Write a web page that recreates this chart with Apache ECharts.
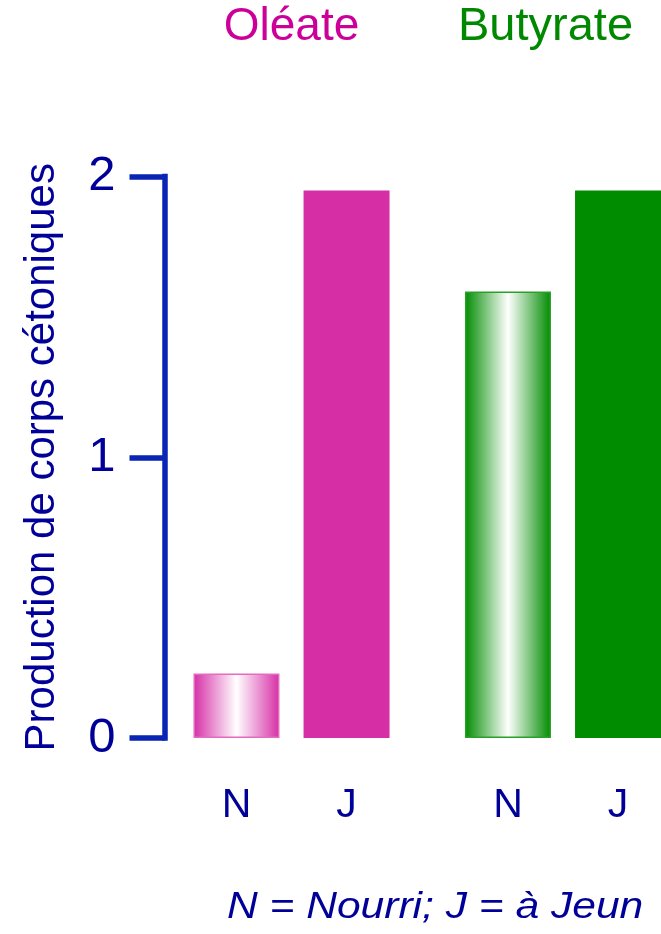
<!DOCTYPE html>
<html>
<head>
<meta charset="utf-8">
<title>Production de corps cétoniques</title>
<script src="https://cdn.jsdelivr.net/npm/echarts@6/dist/echarts.min.js"></script>
<style>
  html, body { margin: 0; padding: 0; background: #ffffff; }
  #chart { width: 661px; height: 934px; }
</style>
</head>
<body>
<div id="chart"></div>
<script>
// Substrates (groups) and feeding states (bars within a group)
const substrates = ['Oléate', 'Butyrate'];
const states = ['N', 'J'];
// Ketone body production per substrate, fed (N) and fasted (J)
const valuesFed = [0.23, 1.59];
const valuesFasted = [1.95, 1.95];
// Y axis ticks
const yTicks = [0, 1, 2];
const footnote = 'N = Nourri; J = à Jeun';
const yTitle = 'Production de corps cétoniques';

const FONT = '"Liberation Sans", Arial, Helvetica, sans-serif';
const NAVY = '#000099';
const AXIS_BLUE = '#0a24b4';
const substrateColors = ['#d62fa6', '#008c00'];
const substrateBorders = ['#e36cc0', '#2aa02a'];
const titleColors = ['#cc0099', '#008800'];

function cylinder(color) {
  return {
    type: 'linear', x: 0, y: 0, x2: 1, y2: 0,
    colorStops: [
      { offset: 0, color: color },
      { offset: 0.5, color: '#ffffff' },
      { offset: 1, color: color }
    ]
  };
}

const chart = echarts.init(document.getElementById('chart'), null, { renderer: 'canvas' });

chart.setOption({
  animation: false,
  backgroundColor: '#ffffff',
  grid: {
    left: 155.75, width: 543, top: 176.5, bottom: 196,
    containLabel: false,
    outerBoundsMode: 'none'
  },
  xAxis: [
    {
      type: 'category',
      data: substrates,
      position: 'bottom',
      axisLine: { show: false },
      axisTick: { show: false },
      axisLabel: { show: false }
    },
    {
      type: 'category',
      data: substrates,
      position: 'top',
      axisLine: { show: false },
      axisTick: { show: false },
      axisLabel: {
        margin: 126,
        formatter: (v, i) => '{s' + i + '|' + v + '}',
        rich: {
          s0: { fontFamily: FONT, fontSize: 46, color: titleColors[0] },
          s1: { fontFamily: FONT, fontSize: 47, color: titleColors[1], padding: [0, 35, 0, 0] }
        }
      }
    }
  ],
  yAxis: {
    type: 'value',
    min: yTicks[0],
    max: yTicks[yTicks.length - 1],
    interval: 1,
    offset: -8.75,
    name: yTitle,
    nameLocation: 'middle',
    nameRotate: 90,
    nameGap: 101,
    nameTextStyle: { fontFamily: FONT, fontSize: 42, color: NAVY },
    axisLine: { show: true, lineStyle: { color: AXIS_BLUE, width: 5.5, cap: 'square' } },
    axisTick: { show: true, inside: false, length: 35, lineStyle: { color: AXIS_BLUE, width: 5.5 } },
    axisLabel: {
      margin: 49,
      fontFamily: FONT,
      fontSize: 49,
      color: NAVY,
      formatter: v => String(v)
    },
    splitLine: { show: false }
  },
  series: [
    {
      name: states[0],
      type: 'bar',
      barWidth: 86,
      barGap: '28%',
      data: valuesFed.map((v, i) => ({
        value: v,
        itemStyle: {
          color: cylinder(substrateColors[i]),
          borderColor: substrateBorders[i],
          borderWidth: 1.5
        }
      })),
      label: {
        show: true,
        position: 'bottom',
        distance: 47,
        formatter: p => p.seriesName,
        fontFamily: FONT,
        fontSize: 41,
        color: NAVY
      }
    },
    {
      name: states[1],
      type: 'bar',
      barWidth: 86,
      barGap: '28%',
      data: valuesFasted.map((v, i) => ({
        value: v,
        itemStyle: { color: substrateColors[i] }
      })),
      label: {
        show: true,
        position: 'bottom',
        distance: 47,
        formatter: p => p.seriesName,
        fontFamily: FONT,
        fontSize: 41,
        color: NAVY
      }
    }
  ],
  graphic: [
    {
      type: 'text',
      left: 227,
      top: 889,
      scaleX: 1.15,
      style: {
        text: footnote,
        fontFamily: FONT,
        fontSize: 37,
        fontStyle: 'italic',
        fill: NAVY
      }
    }
  ]
});
</script>
</body>
</html>
